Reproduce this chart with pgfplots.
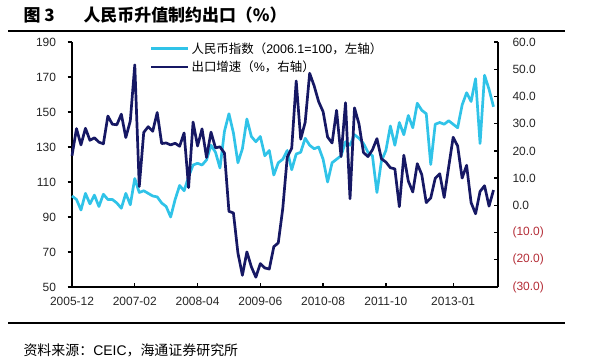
\documentclass[border=0pt]{standalone}
\usepackage{pgfplots}
\usepackage{pgfplotstable}
\pgfplotsset{compat=1.18}
\usepackage{fontspec}
\setmainfont{Liberation Sans}
\newfontfamily\cjk{Noto Sans CJK SC}
\definecolor{cyanl}{RGB}{48,195,232}
\definecolor{navy}{RGB}{22,24,100}
\definecolor{negred}{RGB}{180,45,55}

\pgfplotstableread{
m rmb exp
0 102 18.2
1 100 28.2
2 94 22.2
3 103.5 28.3
4 97.5 23.9
5 102.5 24.8
6 96 23.2
7 103 22.6
8 100 32.8
9 100 29.8
10 98 29.6
11 95 33.5
12 103.5 24.9
13 97 31
14 112 51.6
15 104 6.9
16 105 26.8
17 103.5 28.9
18 102 27.2
19 101.5 34.1
20 98 22.7
21 96 22.9
22 90 22.2
23 100 22.8
24 108 21.7
25 105 26.6
26 113 6.5
27 119.7 30.6
28 120.7 21.8
29 119.7 28.1
30 122.6 17.6
31 131 26.9
32 127 21.1
33 118 21.5
34 139 19.2
35 149 -2.2
36 138 -2.8
37 121 -17.5
38 129 -25.7
39 146 -17.1
40 136 -22.6
41 133 -26.4
42 136 -21.4
43 125 -23.0
44 128 -23.4
45 114 -15.2
46 121 -13.8
47 123 -1.2
48 128 17.7
49 117 21.0
50 126 45.7
51 127 24.3
52 135 30.5
53 131 48.5
54 129 43.9
55 130 38.1
56 123 34.4
57 110 25.1
58 121 22.9
59 123 34.9
60 125 17.9
61 133 37.7
62 131 2.4
63 137 35.8
64 135 29.9
65 132 19.4
66 127 17.9
67 125 20.4
68 104 24.5
69 122 17.1
70 128 15.9
71 142 13.8
72 131 13.4
73 144 -0.5
74 137 18.4
75 148 8.9
76 141 4.9
77 155 15.3
78 151 11.3
79 149 1.0
80 120 2.7
81 143 9.9
82 144 11.6
83 143 2.9
84 145 14.1
85 143 25.0
86 141 21.8
87 154 10.0
88 161 14.7
89 156 1.0
90 169 -3.1
91 132 5.1
92 171 7.2
93 163 -0.3
94 153 5.6
}\data

\pgfplotsset{common/.style={
  at={(72bp,76bp)}, anchor=south west,
  scale only axis, width=426bp, height=245bp,
  xmin=0, xmax=95,
  axis line style={line width=1.6bp, black},
  major tick length=4.5bp,
  tick style={line width=1.3bp, black},
  ticklabel style={font=\fontsize{12}{14}\selectfont, text=black!85},
  /pgf/number format/assume math mode=true,
  clip=false,
}}

\begin{document}
\begin{tikzpicture}[x=1bp,y=1bp]
\path[use as bounding box] (0,0) rectangle (600,363);
\node[anchor=west, font={\cjk\bfseries\fontsize{17}{20}\selectfont}] at (20,348) {图 3};
\node[anchor=west, font={\cjk\bfseries\fontsize{17}{20}\selectfont}] at (80,348) {人民币升值制约出口（\%）};
\draw[line width=1.3bp] (8,332) -- (565,332);
\draw[line width=1.3bp] (8,40) -- (565,40);
\node[anchor=west, font=\fontsize{14}{16}\selectfont] at (20,13) {{\cjk 资料来源：}CEIC{\cjk ，海通证券研究所}};

\begin{axis}[common,
  axis y line*=left, axis x line*=bottom,
  ymin=50, ymax=190, ytick={50,70,...,190},
  yticklabel style={xshift=-8bp},
  xtick=\empty, tick align=outside,
]
\addplot[cyanl, line width=2.7bp, line join=round] table[x=m,y=rmb]{\data};
\end{axis}

\begin{axis}[common,
  axis y line*=right, axis x line*=bottom,
  ymin=-30, ymax=60, ytick={-30,-20,...,60},
  yticklabels={\textcolor{negred}{(30.0)},\textcolor{negred}{(20.0)},\textcolor{negred}{(10.0)},0.0,10.0,20.0,30.0,40.0,50.0,60.0},
  yticklabel style={xshift=11bp},
  tick align=inside,
  xtick={0,14,28,42,56,70,85},
  xticklabels={2005-12,2007-02,2008-04,2009-06,2010-08,2011-10,2013-01},
  xticklabel style={yshift=-7bp},
  legend style={draw=none, fill=none, at={(0.18,1.01)}, anchor=north west,
    font=\fontsize{12.5}{15}\selectfont, row sep=2bp, inner sep=1bp},
  legend cell align=left,
  legend image code/.code={\draw[#1] (0bp,0bp) -- (37bp,0bp);},
]
\addlegendimage{cyanl, line width=2.7bp}
\addlegendentry{{\cjk 人民币指数（}2006.1=100{\cjk ，左轴）}}
\addplot[navy, line width=2.7bp, line join=round] table[x=m,y=exp]{\data};
\addlegendentry{{\cjk 出口增速（}\%{\cjk ，右轴）}}
\end{axis}
\end{tikzpicture}
\end{document}
